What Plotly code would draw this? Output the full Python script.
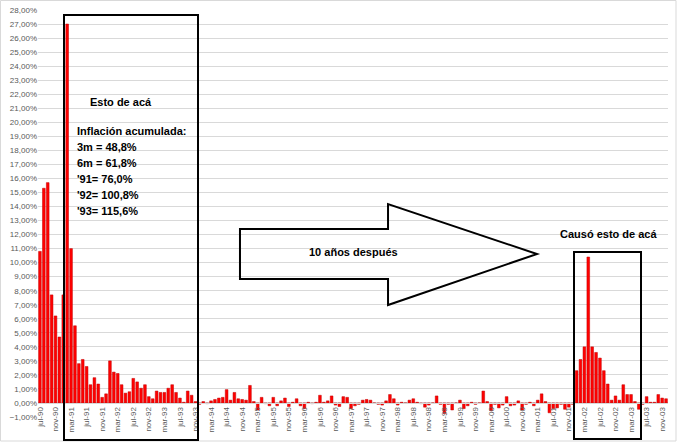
"""Argentina monthly inflation 1990-2003 with Excel-style call-outs."""

import plotly.graph_objects as go

# Monthly CPI change (%), jul-90 .. dec-03
infl_1990 = [10.8, 15.3, 15.7, 7.7, 6.2, 4.7]  # jul-dic
infl_1991 = [7.7, 27.0, 11.0, 5.5, 2.8, 3.1, 2.6, 1.3, 1.8, 1.35, 0.4, 0.65]
infl_1992 = [3.0, 2.2, 2.1, 1.3, 0.7, 0.8, 1.75, 1.5, 1.05, 1.3, 0.45, 0.3]
infl_1993 = [0.85, 0.75, 0.75, 1.05, 1.3, 0.75, 0.35, 0.05, 0.85, 0.55, 0.1, -0.1]
infl_1994 = [0.1, -0.05, 0.15, 0.25, 0.35, 0.4, 0.95, 0.2, 0.75, 0.3, 0.25, 0.2]
infl_1995 = [1.25, 0.1, -0.5, 0.4, -0.05, -0.2, 0.4, -0.2, 0.15, 0.35, -0.25, 0.05]
infl_1996 = [0.3, -0.2, -0.4, 0.05, -0.05, 0.05, 0.55, 0.05, 0.15, 0.5, -0.15, -0.25]
infl_1997 = [0.45, 0.4, -0.4, -0.2, -0.1, 0.2, 0.25, 0.2, 0.0, -0.1, -0.15, 0.15]
infl_1998 = [0.6, 0.3, -0.15, 0.05, 0.0, 0.2, 0.3, 0.05, -0.05, -0.3, -0.15, 0.0]
infl_1999 = [0.5, -0.1, -0.75, -0.1, -0.5, 0.0, 0.2, -0.4, -0.2, 0.05, -0.1, 0.0]
infl_2000 = [0.85, 0.1, -0.55, -0.1, -0.35, -0.15, 0.45, -0.2, -0.15, 0.15, -0.5, -0.1]
infl_2001 = [0.05, -0.2, 0.2, 0.65, 0.1, -0.7, -0.4, -0.35, -0.1, -0.45, -0.3, -0.1]
infl_2002 = [2.3, 3.1, 4.0, 10.4, 4.0, 3.6, 3.2, 2.3, 1.35, 0.2, 0.5, 0.2]
infl_2003 = [1.3, 0.6, 0.6, 0.1, -0.45, -0.1, 0.45, 0.05, 0.05, 0.6, 0.35, 0.3]

month_names = ["ene", "feb", "mar", "abr", "may", "jun",
               "jul", "ago", "sep", "oct", "nov", "dic"]
years = list(range(1990, 2004))

values = (infl_1990 + infl_1991 + infl_1992 + infl_1993 + infl_1994 + infl_1995
          + infl_1996 + infl_1997 + infl_1998 + infl_1999 + infl_2000
          + infl_2001 + infl_2002 + infl_2003)
months = [f"{m}-{str(y)[2:]}" for y in years for m in month_names][6:]
tick_months = months[::4]  # jul-90, nov-90, mar-91 ...

box_lines = ["Inflación acumulada:", "3m = 48,8%", "6m = 61,8%",
             "'91= 76,0%", "'92= 100,8%", "'93= 115,6%"]

W, H = 680, 442
L, R, T, B = 38, 12, 10, 25
pw, ph = W - L - R, H - T - B


def px(x):
    return (x - L) / pw


def py(y):
    return (H - B - y) / ph


grid = "#D9D9D9"
tick_color = "#595959"
font_txt = "Liberation Sans, Arial, sans-serif"

fig = go.Figure()
fig.add_trace(go.Bar(
    x=months,
    y=values,
    marker=dict(color="#FF0000", line=dict(color="#C00000", width=0.5)),
    hoverinfo="x+y",
))

fig.update_layout(
    width=W, height=H,
    margin=dict(l=L, r=R, t=T, b=B, autoexpand=False),
    paper_bgcolor="white",
    plot_bgcolor="white",
    bargap=0.3,
    showlegend=False,
    separators=",.",
    font=dict(family=font_txt, color=tick_color),
    xaxis=dict(
        type="category",
        tickmode="array",
        tickvals=tick_months,
        ticktext=tick_months,
        tickangle=-90,
        tickfont=dict(size=8, color=tick_color),
        showgrid=False,
        showline=True,
        linecolor=grid,
        linewidth=1,
        ticks="",
        anchor="free",
        position=1 / 29,
        automargin=False,
    ),
    yaxis=dict(
        range=[-1, 28],
        dtick=1,
        tickformat=".2f",
        ticksuffix="%",
        tickfont=dict(size=8, color=tick_color),
        showgrid=True,
        gridcolor=grid,
        gridwidth=1,
        zeroline=False,
        showline=False,
        automargin=False,
    ),
)

black = dict(color="black", width=2)

# left call-out box and its text
fig.add_shape(type="rect", xref="paper", yref="paper",
              x0=px(64), x1=px(198), y0=py(440), y1=py(15), line=black)
fig.add_annotation(x=px(88), y=py(102), xref="paper", yref="paper",
                   text="<b>Esto de acá</b>", showarrow=False,
                   xanchor="left", yanchor="middle",
                   font=dict(size=11, color="black", family=font_txt))
for k, line in enumerate(box_lines):
    fig.add_annotation(x=px(75), y=py(131 + k * 16), xref="paper", yref="paper",
                       text=f"<b>{line}</b>", showarrow=False,
                       xanchor="left", yanchor="middle",
                       font=dict(size=11, color="black", family=font_txt))

# block arrow
pts = [(240, 229), (388, 229), (388, 204), (537, 254),
       (388, 305), (388, 279), (240, 279)]
path = "M " + " L ".join(f"{px(a):.4f},{py(b):.4f}" for a, b in pts) + " Z"
fig.add_shape(type="path", xref="paper", yref="paper", path=path, line=black)
fig.add_annotation(x=px(353), y=py(252), xref="paper", yref="paper",
                   text="<b>10 años después</b>", showarrow=False,
                   xanchor="center", yanchor="middle",
                   font=dict(size=11, color="black", family=font_txt))

# right call-out box
fig.add_shape(type="rect", xref="paper", yref="paper",
              x0=px(574), x1=px(641), y0=py(439), y1=py(252), line=black)
fig.add_annotation(x=px(608), y=py(234), xref="paper", yref="paper",
                   text="<b>Causó esto de acá</b>", showarrow=False,
                   xanchor="center", yanchor="middle",
                   font=dict(size=11, color="black", family=font_txt))

# faint chart-area frame
fig.add_shape(type="rect", xref="paper", yref="paper",
              x0=px(0.5), x1=px(676), y0=py(441), y1=py(0.5),
              line=dict(color=grid, width=1), layer="below")

# page body has a default 8px margin; drop it so the figure sits at 0,0
fig.write_html("out.html", config={"displayModeBar": False},
               post_script="document.body.style.margin='0';")
